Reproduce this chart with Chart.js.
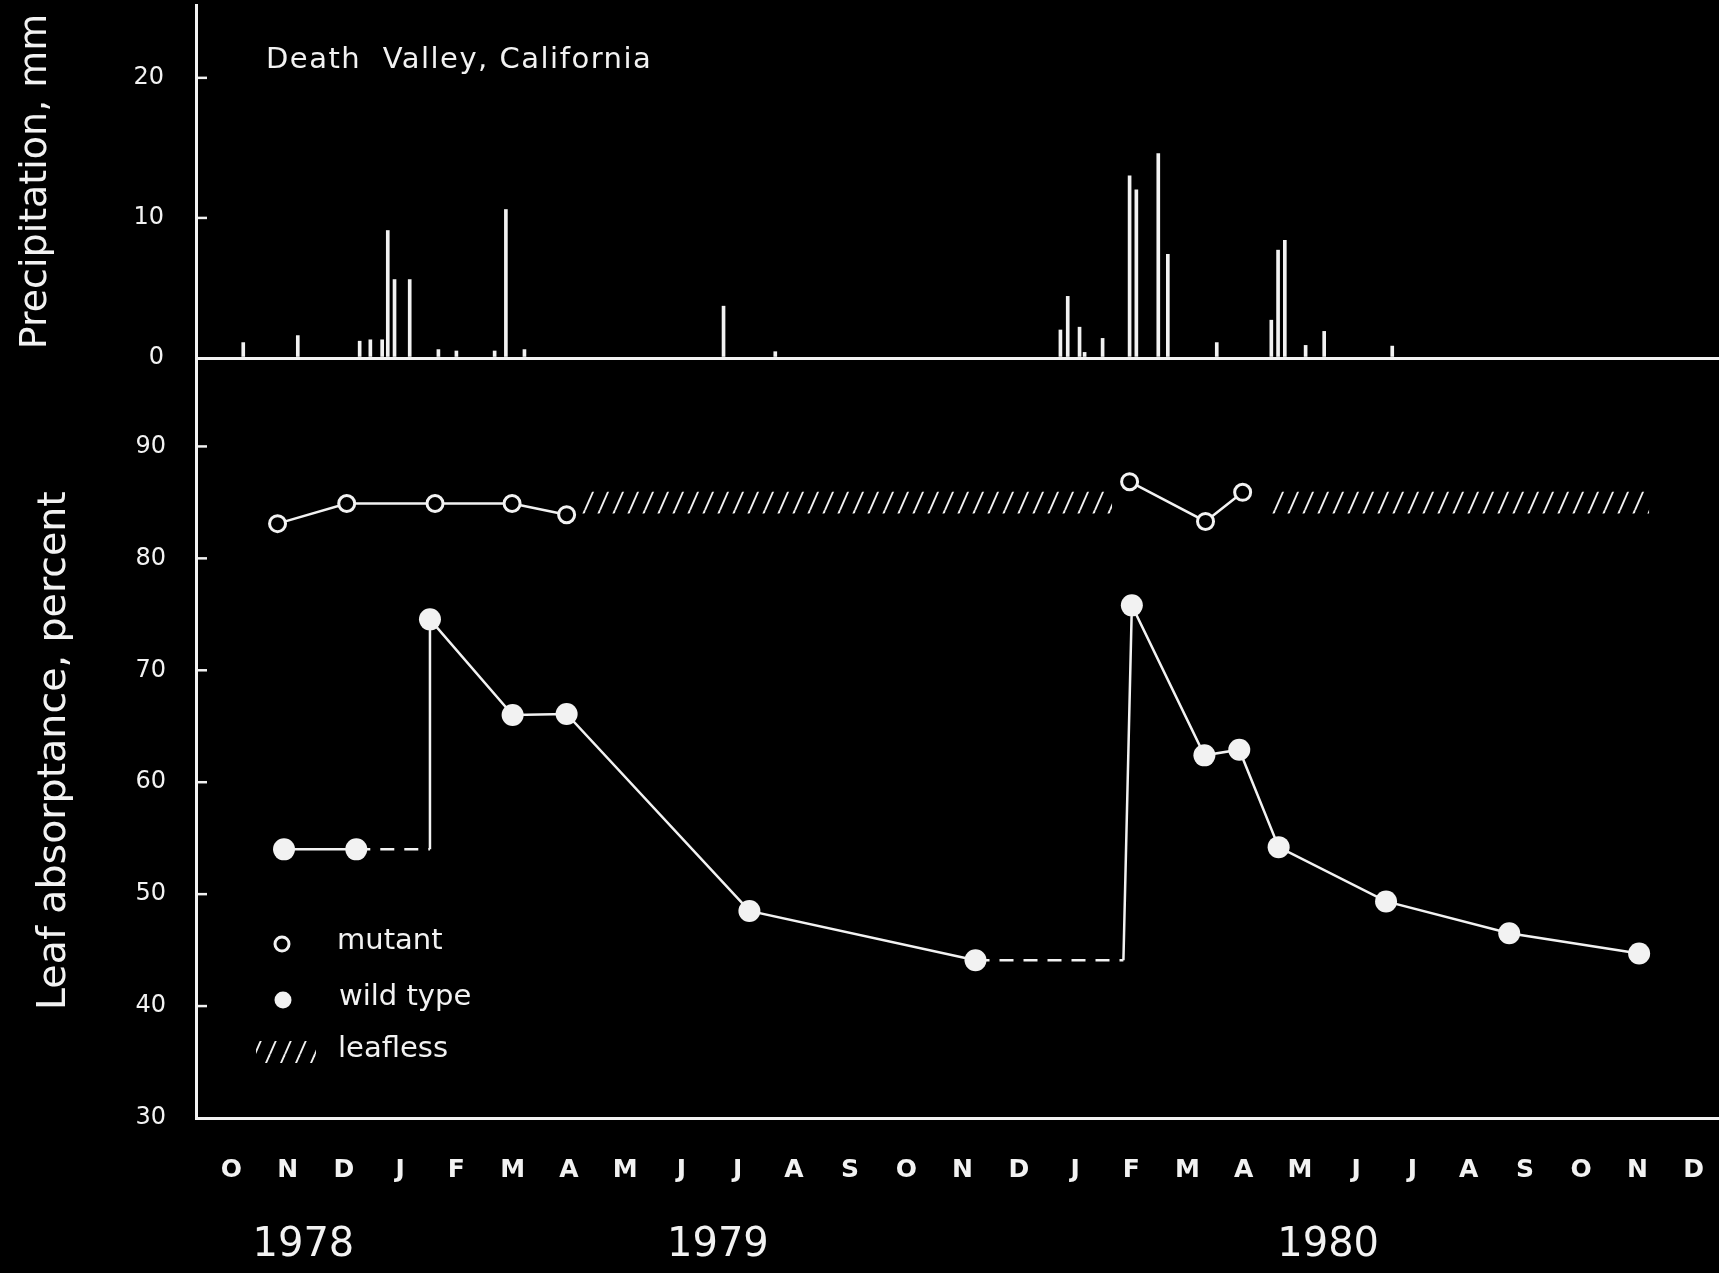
<!DOCTYPE html>
<html>
<head>
<meta charset="utf-8">
<script src="https://cdn.jsdelivr.net/npm/chart.js@4.4.1/dist/chart.umd.min.js"></script>
<style>
  html, body { margin: 0; padding: 0; background: #000; }
  canvas { display: block; }
</style>
</head>
<body>
<canvas id="chart" width="1719" height="1273"></canvas>
<script>
// x is a month index: 0 = Oct 1978 ... 26 = Dec 1980
const monthLetters = ['O','N','D','J','F','M','A','M','J','J','A','S','O','N','D','J','F','M','A','M','J','J','A','S','O','N','D'];
const years = ['1978', '1979', '1980'];
const yearAt = [1.28, 8.65, 19.5];

const precipTicks = [0, 10, 20];
const absTicks = [30, 40, 50, 60, 70, 80, 90];

// daily rain events, mm
const rainX = [0.21, 1.18, 2.28, 2.47, 2.68, 2.78, 2.90, 3.17, 3.68, 4.00, 4.68, 4.88, 5.21, 8.75, 9.67,
               14.74, 14.87, 15.08, 15.17, 15.49, 15.97, 16.09, 16.48, 16.65, 17.52, 18.49, 18.61, 18.73, 19.10, 19.43, 20.64];
const rainMM = [1.1, 1.6, 1.2, 1.3, 1.3, 9.1, 5.6, 5.6, 0.6, 0.5, 0.5, 10.6, 0.6, 3.7, 0.45,
                2.0, 4.4, 2.2, 0.4, 1.4, 13.0, 12.0, 14.6, 7.4, 1.1, 2.7, 7.7, 8.4, 0.9, 1.9, 0.85];

// mutant, open circles
const mutant79X = [0.82, 2.05, 3.62, 4.99, 5.96];
const mutant79Y = [83.1, 84.9, 84.9, 84.9, 83.9];
const mutant80X = [15.97, 17.32, 17.98];
const mutant80Y = [86.85, 83.3, 85.9];

// wild type, filled circles
const wildX = [0.935, 2.22, 3.53, 3.53, 5.0, 5.96, 9.21, 13.23, 15.86, 16.01, 17.3, 17.92, 18.62, 20.53, 22.72, 25.03];
const wildY = [54.0, 54.0, 54.0, 74.55, 66.0, 66.1, 48.5, 44.1, 44.1, 75.8, 62.4, 62.9, 54.2, 49.35, 46.5, 44.7];
const wildCorners = [2, 8];   // bends of the line, not measurements
const wildDashed = [1, 7];    // segment starting at this point is dashed

// leafless periods
const leaflessFrom = [6.21, 18.49];
const leaflessTo = [15.66, 25.21];
const leaflessHi = 85.95;
const leaflessLo = 84.0;

const W = '#f2f2f2';
const FONT = "'DejaVu Sans', sans-serif";
Chart.defaults.font.family = FONT;
Chart.defaults.color = W;

const canvas = document.getElementById('chart');
const mainCtx = canvas.getContext('2d');

function makeHatch() {
    const c = document.createElement('canvas');
    c.width = 15; c.height = 34;
    const g = c.getContext('2d');
    g.strokeStyle = W;
    g.lineWidth = 1.9;
    for (const dx of [-15, 0, 15]) {
        g.beginPath();
        g.moveTo(dx, 34);
        g.lineTo(dx + 15, 0);
        g.stroke();
    }
    return mainCtx.createPattern(c, 'repeat');
}
const hatch = makeHatch();

const pts = (xs, ys) => xs.map((x, i) => ({x: x, y: ys[i]}));

const paper = {
    id: 'paper',
    beforeDraw(chart) {
        const {ctx, width, height} = chart;
        ctx.save();
        ctx.fillStyle = '#000';
        ctx.fillRect(0, 0, width, height);
        ctx.restore();
    },
    afterDraw(chart) {
        const {ctx, chartArea: a, scales} = chart;
        ctx.save();
        ctx.strokeStyle = W;
        ctx.fillStyle = W;
        ctx.lineWidth = 2.5;
        // inward tick marks
        [[scales.yP, precipTicks.slice(1)], [scales.yL, absTicks.slice(1)]].forEach(([s, vals]) => {
            vals.forEach(v => {
                const y = s.getPixelForValue(v);
                ctx.beginPath();
                ctx.moveTo(a.left, y);
                ctx.lineTo(a.left + 11, y);
                ctx.stroke();
            });
        });

        ctx.textBaseline = 'middle';
        ctx.textAlign = 'left';
        ctx.font = '29px ' + FONT;
        ctx.letterSpacing = '1.5px';
        ctx.fillText('Death  Valley, California', 266, 60);
        ctx.letterSpacing = '0px';

        // years under the month letters
        ctx.font = '40px ' + FONT;
        ctx.textAlign = 'center';
        years.forEach((t, i) => ctx.fillText(t, scales.x.getPixelForValue(yearAt[i]), 1246));

        // legend
        ctx.textAlign = 'left';
        ctx.font = '29px ' + FONT;
        ctx.lineWidth = 3;
        ctx.beginPath();
        ctx.arc(282, 944, 7, 0, Math.PI * 2);
        ctx.stroke();
        ctx.fillText('mutant', 337, 941);
        ctx.beginPath();
        ctx.arc(283, 1000, 8.5, 0, Math.PI * 2);
        ctx.fill();
        ctx.fillText('wild type', 339, 997);
        ctx.fillStyle = hatch;
        ctx.fillRect(256, 1041, 60, 22);
        ctx.fillStyle = W;
        ctx.fillText('leafless', 338, 1049);
        ctx.restore();
    }
};

new Chart(canvas, {
    type: 'line',
    data: {
        datasets: [
            {
                type: 'bar',
                yAxisID: 'yP',
                data: pts(rainX, rainMM),
                backgroundColor: W,
                borderWidth: 0,
                barThickness: 3
            },
            ...leaflessFrom.map((x0, i) => ({
                yAxisID: 'yL',
                data: [{x: x0, y: leaflessHi}, {x: leaflessTo[i], y: leaflessHi}],
                borderColor: 'transparent',
                borderWidth: 0,
                pointRadius: 0,
                backgroundColor: hatch,
                fill: {value: leaflessLo}
            })),
            ...[[mutant79X, mutant79Y], [mutant80X, mutant80Y]].map(([xs, ys]) => ({
                yAxisID: 'yL',
                data: pts(xs, ys),
                borderColor: W,
                borderWidth: 2.5,
                pointRadius: 8,
                pointBorderWidth: 3,
                pointBorderColor: W,
                pointBackgroundColor: '#000',
                fill: false
            })),
            {
                yAxisID: 'yL',
                data: pts(wildX, wildY),
                borderColor: W,
                borderWidth: 2.5,
                pointRadius: wildX.map((_, i) => wildCorners.includes(i) ? 0 : 11),
                pointBorderWidth: 0,
                pointBackgroundColor: W,
                fill: false,
                segment: {
                    borderDash: c => wildDashed.includes(c.p0DataIndex) ? [14, 10] : undefined
                }
            }
        ]
    },
    options: {
        responsive: false,
        animation: false,
        events: [],
        layout: {autoPadding: false, padding: {top: 5, left: 0, right: 0, bottom: 0}},
        plugins: {legend: {display: false}, tooltip: {enabled: false}},
        scales: {
            x: {
                type: 'linear',
                min: -0.63,
                max: 26.45,
                offset: false,
                afterBuildTicks: s => { s.ticks = monthLetters.map((_, i) => ({value: i})); },
                afterFit: s => { s.height = 1273 - 1118; s.paddingLeft = 0; s.paddingRight = 0; },
                grid: {display: false, drawTicks: false},
                border: {display: true, color: W, width: 3},
                ticks: {
                    callback: v => monthLetters[v],
                    font: {size: 25, weight: 'bold'},
                    padding: 37,
                    maxRotation: 0,
                    autoSkip: false
                }
            },
            yP: {
                type: 'linear',
                position: 'left',
                stack: 'v',
                stackWeight: 353,
                weight: 1,
                min: 0,
                max: 25.2,
                afterBuildTicks: s => { s.ticks = precipTicks.map(v => ({value: v})); },
                afterFit: s => { s.width = 196; s.paddingTop = 0; s.paddingBottom = 0; },
                grid: {
                    display: true,
                    drawTicks: false,
                    color: c => (c.tick && c.tick.value === 0) ? W : 'transparent',
                    lineWidth: 3
                },
                border: {display: true, color: W, width: 3},
                ticks: {font: {size: 24}, padding: 32},
                title: {display: true, text: 'Precipitation, mm', font: {size: 38}, padding: {top: 13}}
            },
            yL: {
                type: 'linear',
                position: 'left',
                stack: 'v',
                stackWeight: 760,
                weight: 0,
                min: 30,
                max: 97.9,
                afterBuildTicks: s => { s.ticks = absTicks.map(v => ({value: v})); },
                afterFit: s => { s.width = 196; s.paddingTop = 0; s.paddingBottom = 0; },
                grid: {display: false, drawTicks: false},
                border: {display: true, color: W, width: 3},
                ticks: {font: {size: 24}, padding: 30},
                title: {display: true, text: 'Leaf absorptance, percent  ', font: {size: 39.5}, padding: {top: 31}}
            }
        }
    },
    plugins: [paper]
});
</script>
</body>
</html>
